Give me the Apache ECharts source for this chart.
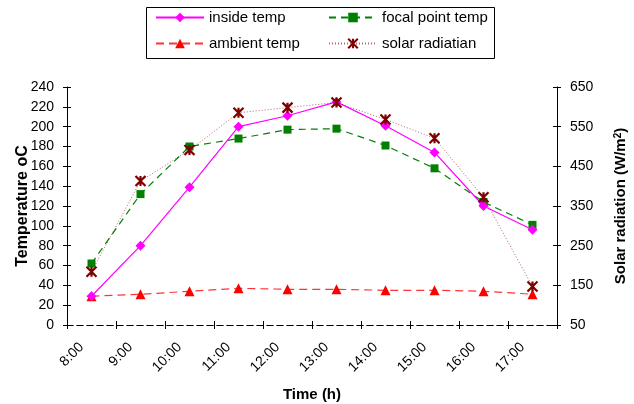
<!DOCTYPE html>
<html>
<head>
<meta charset="utf-8">
<script src="https://cdn.jsdelivr.net/npm/echarts@6/dist/echarts.min.js"></script>
<style>
  html, body { margin: 0; padding: 0; background: #fff; }
  #chart { width: 634px; height: 404px; }
</style>
</head>
<body>
<div id="chart"></div>
<script>
// Hourly readings of the solar collector test
const hours = ['8:00', '9:00', '10:00', '11:00', '12:00', '13:00', '14:00', '15:00', '16:00', '17:00'];
const insideTemp = [29, 80, 139, 200, 211, 225, 201, 174, 120, 96];
const focalTemp = [62, 132, 180, 188, 197, 198, 181, 158, 124, 101];
const ambientTemp = [29, 31, 34, 37, 36, 36, 35, 35, 34, 31];
const solarRadiation = [184, 413, 491, 585, 598, 611, 568, 521, 372, 147];
const tempTicks = [0, 20, 40, 60, 80, 100, 120, 140, 160, 180, 200, 220, 240];
const radiationTicks = [50, 150, 250, 350, 450, 550, 650];

const FONT = 'Liberation Sans, Arial, sans-serif';
const starPath = 'path://M0,0L10,10M10,0L0,10M5,0L5,10';

const chart = echarts.init(document.getElementById('chart'), null, { renderer: 'canvas' });

const axisText = { color: '#000', fontFamily: FONT, fontSize: 14 };
const legendText = { color: '#000', fontFamily: FONT, fontSize: 15 };

chart.setOption({
  animation: false,
  backgroundColor: '#fff',
  graphic: [{
    type: 'rect',
    left: 144, top: 5,
    shape: { width: 348, height: 51 },
    style: { fill: 'none', stroke: '#000', lineWidth: 1 },
    silent: true
  }],
  legend: [
    {
      left: 155, top: 10, orient: 'vertical', itemGap: 11,
      padding: 0,
      itemWidth: 48, itemHeight: 12,
      textStyle: legendText,
      data: ['inside temp', 'ambient temp']
    },
    {
      left: 328, top: 10, orient: 'vertical', itemGap: 11,
      padding: 0,
      itemWidth: 48, itemHeight: 12,
      textStyle: legendText,
      data: ['focal point temp', 'solar radiatian']
    }
  ],
  grid: { left: 67, right: 77, top: 87, bottom: 79, containLabel: false, outerBoundsMode: 'none' },
  xAxis: [
    {
      type: 'category',
      data: hours,
      boundaryGap: true,
      name: 'Time (h)',
      nameLocation: 'middle',
      nameGap: 62,
      nameTextStyle: { color: '#000', fontFamily: FONT, fontSize: 15, fontWeight: 'bold' },
      axisLine: { lineStyle: { color: '#000', type: [6, 4], width: 1 } },
      axisTick: { show: true, length: 4, lineStyle: { color: '#000' } },
      axisLabel: Object.assign({ rotate: 45, margin: 10, interval: 0, padding: [0, 14, 0, 0] }, axisText),
      splitLine: { show: false }
    },
    {
      type: 'category',
      data: hours,
      position: 'top',
      axisLine: { lineStyle: { color: '#000', type: [6, 4], width: 1 } },
      axisTick: { show: false },
      axisLabel: { show: false },
      splitLine: { show: false }
    },
    {
      type: 'category',
      data: hours,
      position: 'bottom',
      axisLine: { show: false },
      axisTick: { show: true, inside: true, length: 4, lineStyle: { color: '#000' } },
      axisLabel: { show: false },
      splitLine: { show: false }
    }
  ],
  yAxis: [
    {
      type: 'value',
      min: 0, max: 240, interval: 20,
      position: 'left',
      name: 'Temperature oC',
      nameLocation: 'middle',
      nameGap: 36,
      nameRotate: 90,
      nameMoveOverlap: false,
      nameTextStyle: { color: '#000', fontFamily: FONT, fontSize: 16, fontWeight: 'bold' },
      axisLine: { show: true, lineStyle: { color: '#000', width: 1 } },
      axisTick: { show: true, length: 4, lineStyle: { color: '#000' }, customValues: tempTicks },
      axisLabel: Object.assign({ margin: 13, customValues: tempTicks }, axisText),
      splitLine: { show: false }
    },
    {
      type: 'value',
      min: 50, max: 650, interval: 100,
      position: 'right',
      name: '{t|Solar radiation (W/m}{s|2}{t|)}',
      nameLocation: 'middle',
      nameGap: 56,
      nameRotate: 90,
      nameTextStyle: {
        color: '#000', fontFamily: FONT, fontSize: 15, fontWeight: 'bold',
        rich: {
          t: { fontFamily: FONT, fontSize: 15, fontWeight: 'bold', color: '#000' },
          s: { fontFamily: FONT, fontSize: 10, fontWeight: 'bold', color: '#000', verticalAlign: 'top', padding: [0, 0, 6, 0] }
        }
      },
      axisLine: { show: true, lineStyle: { color: '#000', width: 1 } },
      axisTick: { show: true, length: 4, lineStyle: { color: '#000' }, customValues: radiationTicks },
      axisLabel: Object.assign({ margin: 13, customValues: radiationTicks }, axisText),
      splitLine: { show: false }
    },
    {
      type: 'value',
      min: 0, max: 240, interval: 20,
      position: 'left',
      axisLine: { show: false },
      axisTick: { show: true, inside: true, length: 4, lineStyle: { color: '#000' }, customValues: tempTicks },
      axisLabel: { show: false },
      splitLine: { show: false }
    },
    {
      type: 'value',
      min: 50, max: 650, interval: 100,
      position: 'right',
      axisLine: { show: false },
      axisTick: { show: true, inside: true, length: 4, lineStyle: { color: '#000' }, customValues: radiationTicks },
      axisLabel: { show: false },
      splitLine: { show: false }
    }
  ],
  series: [
    {
      name: 'inside temp',
      type: 'line',
      xAxisIndex: 0, yAxisIndex: 0,
      data: insideTemp,
      symbol: 'diamond', symbolSize: 10,
      color: '#FF00FF',
      lineStyle: { color: '#FF00FF', width: 1.2, type: 'solid' },
      itemStyle: { color: '#FF00FF' },
      z: 4
    },
    {
      name: 'focal point temp',
      type: 'line',
      xAxisIndex: 0, yAxisIndex: 0,
      data: focalTemp,
      symbol: 'rect', symbolSize: 8,
      color: '#008000',
      lineStyle: { color: '#008000', width: 1.2, type: [7, 5] },
      itemStyle: { color: '#008000' },
      z: 3
    },
    {
      name: 'ambient temp',
      type: 'line',
      xAxisIndex: 0, yAxisIndex: 0,
      data: ambientTemp,
      symbol: 'triangle', symbolSize: 10,
      color: '#FF0000',
      lineStyle: { color: '#FF0000', width: 1.2, type: [8, 5], opacity: 0.8 },
      itemStyle: { color: '#FF0000' },
      z: 3
    },
    {
      name: 'solar radiatian',
      type: 'line',
      xAxisIndex: 0, yAxisIndex: 1,
      data: solarRadiation,
      symbol: starPath, symbolSize: 10,
      color: '#800000',
      lineStyle: { color: '#800000', width: 1, type: [1, 2], opacity: 0.6 },
      itemStyle: { color: '#800000', borderColor: '#800000', borderWidth: 2.2 },
      z: 5
    }
  ]
});
</script>
</body>
</html>
